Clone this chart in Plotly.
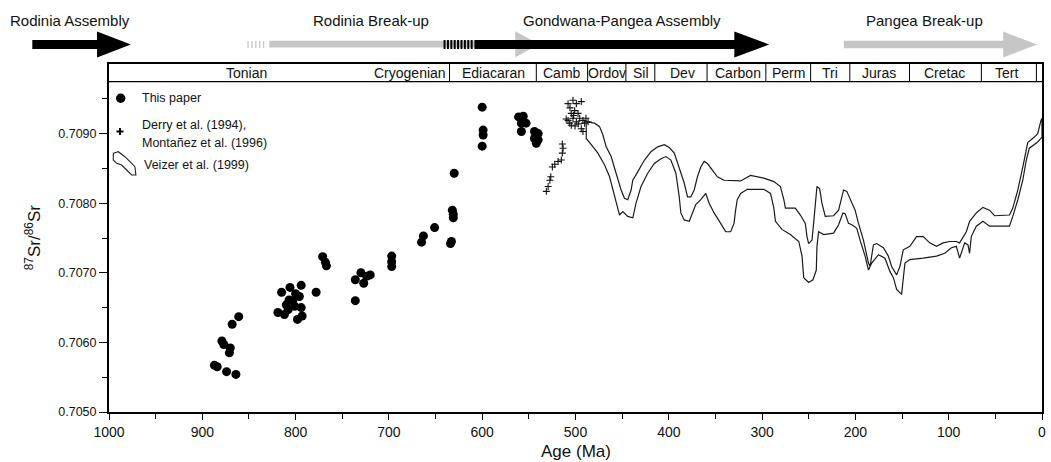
import plotly.graph_objects as go

# ---------------- data ----------------
paper_age = [887, 884, 874, 864, 879, 877, 870, 871, 868, 861,
             815, 806, 794, 819, 812, 810, 807, 801, 796, 794, 798, 793, 808, 803, 800,
             778, 771, 768, 767, 736, 736, 730, 727, 720, 724, 697, 697, 697,
             665, 663, 651, 634, 633, 632, 631, 631, 630,
             600, 599, 599, 600, 561, 556, 558, 553, 558, 544, 540, 544, 540, 542]
paper_sr = [0.70567, 0.70565, 0.70558, 0.70554, 0.70602, 0.70597, 0.70592, 0.70585, 0.70626, 0.70637,
            0.70672, 0.70679, 0.70682, 0.70643, 0.70640, 0.70654, 0.70661, 0.70652, 0.70666, 0.70650,
            0.70633, 0.70638, 0.70647, 0.70660, 0.70670,
            0.70672, 0.70723, 0.70715, 0.70710, 0.70690, 0.70660, 0.70700, 0.70685, 0.70697, 0.70695,
            0.70724, 0.70716, 0.70709,
            0.70744, 0.70753, 0.70765, 0.70742, 0.70745, 0.70790, 0.70779, 0.70784, 0.70843,
            0.70938, 0.70905, 0.70898, 0.70882, 0.70924, 0.70925, 0.70915, 0.70915, 0.70903,
            0.70903, 0.70900, 0.70893, 0.70891, 0.70886]

derry_age = [531.2, 529.3, 527.5, 526.5, 524.8, 522.2, 518.7, 515.2, 514.1, 513.3, 514.1,
             508.0, 502.7, 499.1, 493.8, 504.5, 500.9, 508.0, 506.2, 502.7, 499.1, 495.5,
             492.0, 490.2, 504.5, 493.8, 492.0, 500.5, 497.3, 505.9, 488.8, 502.0, 497.0,
             510.0, 486.5]
derry_sr = [0.70817, 0.70824, 0.70833, 0.70838, 0.70852, 0.70856, 0.70860, 0.70862, 0.70872,
            0.70879, 0.70885, 0.70943, 0.70948, 0.70943, 0.70946, 0.70929, 0.70933, 0.70919,
            0.70915, 0.70922, 0.70917, 0.70922, 0.70919, 0.70915, 0.70912, 0.70907, 0.70903,
            0.70911, 0.70929, 0.70937, 0.70922, 0.70926, 0.70914, 0.70921, 0.70917]

veizer_upper_age = [490.2, 479.5, 474.2, 470.6, 467.1, 461.8, 456.5, 451.1, 447.5, 444.0, 440.4,
                    438.6, 433.3, 426.1, 419.1, 412.0, 404.8, 399.5, 394.1, 388.8, 383.5, 379.9,
                    376.4, 372.8, 369.3, 365.7, 362.1, 358.6, 353.3, 347.9, 340.8, 330.1, 323.0,
                    312.4, 298.1, 287.4, 280.4, 276.7, 275.0, 264.4, 259.0, 253.7, 251.9, 250.1,
                    246.5, 244.1, 241.2, 238.3, 235.9, 232.3, 223.4, 218.0, 212.7, 209.2, 203.8,
                    200.3, 196.7, 191.4, 186.0, 184.3, 180.7, 177.2, 170.0, 164.7, 161.2, 155.8,
                    152.3, 148.7, 141.6, 134.5, 127.3, 120.3, 113.1, 106.0, 98.9, 91.8, 88.3,
                    84.6, 81.1, 77.6, 70.4, 63.3, 56.2, 50.9, 42.0, 34.9, 31.3, 25.9, 20.6,
                    15.3, 8.2, 4.6, 1.1, 0.0]
veizer_upper_sr = [0.70917, 0.70915, 0.70910, 0.70898, 0.70881, 0.70867, 0.70843, 0.70819, 0.70807,
                   0.70805, 0.70819, 0.70833, 0.70845, 0.70862, 0.70874, 0.70881, 0.70884, 0.70880,
                   0.70872, 0.70852, 0.70829, 0.70809, 0.70809, 0.70819, 0.70838, 0.70852, 0.70860,
                   0.70857, 0.70848, 0.70838, 0.70833, 0.70832, 0.70832, 0.70840, 0.70836, 0.70831,
                   0.70824, 0.70805, 0.70793, 0.70793, 0.70783, 0.70771, 0.70752, 0.70742, 0.70747,
                   0.70781, 0.70824, 0.70821, 0.70800, 0.70781, 0.70782, 0.70790, 0.70819, 0.70817,
                   0.70802, 0.70790, 0.70771, 0.70747, 0.70714, 0.70709, 0.70740, 0.70742, 0.70736,
                   0.70724, 0.70709, 0.70697, 0.70709, 0.70733, 0.70738, 0.70752, 0.70752, 0.70743,
                   0.70738, 0.70743, 0.70745, 0.70745, 0.70743, 0.70752, 0.70759, 0.70774, 0.70786,
                   0.70794, 0.70790, 0.70782, 0.70782, 0.70783, 0.70793, 0.70819, 0.70852, 0.70887,
                   0.70895, 0.70900, 0.70919, 0.70922]

veizer_lower_age = [488.5, 488.5, 483.1, 476.0, 468.8, 463.5, 458.2, 454.6, 452.8, 449.3, 444.0,
                    438.6, 435.1, 429.8, 422.6, 415.5, 408.4, 403.1, 397.8, 392.4, 388.8, 387.1,
                    383.5, 378.1, 374.6, 371.1, 365.7, 360.4, 356.8, 351.4, 344.4, 339.1, 333.7,
                    330.1, 328.4, 326.6, 323.0, 315.9, 312.4, 298.1, 291.0, 287.4, 285.7, 278.5,
                    269.7, 260.7, 257.2, 255.4, 250.1, 245.5, 241.9, 241.2, 239.4, 234.0, 223.4,
                    218.0, 213.4, 211.0, 207.4, 203.8, 198.5, 195.0, 189.6, 186.0, 182.5, 175.3,
                    168.3, 163.0, 159.3, 155.8, 150.5, 148.7, 146.9, 141.6, 127.3, 113.1, 104.2,
                    97.1, 91.8, 88.3, 82.9, 79.3, 77.6, 75.8, 70.4, 63.3, 56.2, 34.9, 31.3, 25.9,
                    20.6, 17.1, 13.6, 4.6, 0.0]
veizer_lower_sr = [0.70915, 0.70893, 0.70884, 0.70872, 0.70855, 0.70838, 0.70809, 0.70793, 0.70783,
                   0.70788, 0.70781, 0.70779, 0.70800, 0.70824, 0.70843, 0.70857, 0.70864, 0.70867,
                   0.70862, 0.70843, 0.70809, 0.70786, 0.70776, 0.70774, 0.70786, 0.70798, 0.70805,
                   0.70814, 0.70800, 0.70786, 0.70771, 0.70759, 0.70759, 0.70771, 0.70790, 0.70805,
                   0.70814, 0.70820, 0.70820, 0.70820, 0.70814, 0.70793, 0.70774, 0.70762, 0.70755,
                   0.70745, 0.70724, 0.70693, 0.70686, 0.70690, 0.70704, 0.70738, 0.70759, 0.70755,
                   0.70757, 0.70769, 0.70786, 0.70785, 0.70771, 0.70769, 0.70764, 0.70747, 0.70724,
                   0.70704, 0.70714, 0.70726, 0.70721, 0.70702, 0.70693, 0.70676, 0.70669, 0.70695,
                   0.70714, 0.70719, 0.70721, 0.70724, 0.70728, 0.70736, 0.70738, 0.70721, 0.70743,
                   0.70740, 0.70728, 0.70752, 0.70767, 0.70774, 0.70767, 0.70767, 0.70781, 0.70805,
                   0.70833, 0.70860, 0.70879, 0.70888, 0.70895]

period_names = ["Tonian", "Cryogenian", "Ediacaran", "Camb", "Ordov", "Sil", "Dev",
                "Carbon", "Perm", "Tri", "Juras", "Cretac", "Tert"]
period_label_age = [853, 677, 588, 514, 466, 430, 385, 326, 272, 227, 175, 104, 38]
period_boundaries = [635, 542, 487, 446, 415, 359, 296, 248, 206, 142, 65, 6]

x_ticks = list(range(0, 1001, 100))
x_minor = list(range(50, 1000, 100))
y_ticks = [0.7050, 0.7060, 0.7070, 0.7080, 0.7090]
y_tick_text = ["0.7050", "0.7060", "0.7070", "0.7080", "0.7090"]
y_minor = [0.7055, 0.7065, 0.7075, 0.7085, 0.7095]

tectonic_labels = ["Rodinia Assembly", "Rodinia Break-up", "Gondwana-Pangea Assembly", "Pangea Break-up"]
legend_labels = ["This paper", "Derry et al. (1994),", "Montañez et al. (1996)", "Veizer et al. (1999)"]

# ---------------- layout geometry helpers (decoration only) ----------------
W, H = 1051, 462
ML, MR, MT, MB = 109, 5, 64, 50
PW, PH = W - ML - MR, H - MT - MB
FONT = "Liberation Sans, Arial, Helvetica, sans-serif"


def PX(x):
    return (x - ML) / PW


def PY(y):
    return (H - MB - y) / PH


def arrow_path(x0, xs, xt, yc, s, h):
    pts = [(x0, yc - s), (xs, yc - s), (xs, yc - h), (xt, yc), (xs, yc + h), (xs, yc + s), (x0, yc + s)]
    return "M " + " L ".join(f"{PX(a):.5f},{PY(b):.5f}" for a, b in pts) + " Z"


fig = go.Figure()

veizer_x = veizer_upper_age + veizer_lower_age[::-1]
veizer_y = veizer_upper_sr + veizer_lower_sr[::-1]
fig.add_trace(go.Scatter(x=veizer_x, y=veizer_y, mode="lines",
                         line=dict(color="#1a1a1a", width=1.2), hoverinfo="skip"))
fig.add_trace(go.Scatter(x=derry_age, y=derry_sr, mode="markers",
                         marker=dict(symbol="cross-thin", size=5, line=dict(color="#111", width=1.1))))
fig.add_trace(go.Scatter(x=paper_age, y=paper_sr, mode="markers",
                         marker=dict(symbol="circle", size=9, color="#000")))

shapes = []
annotations = []

# period bar
shapes.append(dict(type="line", xref="paper", yref="paper", x0=0, x1=1, y0=PY(81.7), y1=PY(81.7),
                   line=dict(color="black", width=1.2)))
for b in period_boundaries:
    shapes.append(dict(type="line", xref="x", yref="paper", x0=b, x1=b, y0=PY(81.7), y1=1,
                       line=dict(color="black", width=1)))
for name, a in zip(period_names, period_label_age):
    annotations.append(dict(x=a, y=PY(73), xref="x", yref="paper", text=name, showarrow=False,
                            font=dict(family=FONT, size=14, color="#111"), xanchor="center", yanchor="middle"))

# tectonic arrows
gray = "#c6c6c6"
for i in range(5):
    x = 248 + i * 3.9
    shapes.append(dict(type="rect", xref="paper", yref="paper", x0=PX(x), x1=PX(x + 1.3),
                       y0=PY(48), y1=PY(41), fillcolor=gray, line=dict(width=0)))
shapes.append(dict(type="path", xref="paper", yref="paper",
                   path=arrow_path(270, 517, 541, 44.2, 3.4, 13), fillcolor=gray, line=dict(width=0)))
for i in range(9):
    x = 445 + i * 3.4
    shapes.append(dict(type="rect", xref="paper", yref="paper", x0=PX(x), x1=PX(x + 2.0),
                       y0=PY(49), y1=PY(40), fillcolor="black", line=dict(width=0)))
shapes.append(dict(type="path", xref="paper", yref="paper",
                   path=arrow_path(32, 97, 131, 44.5, 4.6, 13), fillcolor="black", line=dict(width=0)))
shapes.append(dict(type="path", xref="paper", yref="paper",
                   path=arrow_path(476, 737, 772, 44.5, 4.6, 13), fillcolor="black", line=dict(width=0)))
shapes.append(dict(type="path", xref="paper", yref="paper",
                   path=arrow_path(847, 1007, 1041, 44.5, 3.8, 13), fillcolor=gray, line=dict(width=0)))

for txt, xc in zip(tectonic_labels, [70, 372, 624, 928]):
    annotations.append(dict(x=PX(xc), y=PY(21), xref="paper", yref="paper", text=txt, showarrow=False,
                            font=dict(family=FONT, size=15, color="#111"), xanchor="center", yanchor="middle"))

# legend (drawn by hand)
shapes.append(dict(type="circle", xref="paper", yref="paper", x0=PX(116), x1=PX(125.5),
                   y0=PY(103), y1=PY(93.5), fillcolor="black", line=dict(width=0)))
shapes.append(dict(type="line", xref="paper", yref="paper", x0=PX(116.5), x1=PX(123.5),
                   y0=PY(131.5), y1=PY(131.5), line=dict(color="black", width=2)))
shapes.append(dict(type="line", xref="paper", yref="paper", x0=PX(120), x1=PX(120),
                   y0=PY(128), y1=PY(135), line=dict(color="black", width=2)))
poly = [(113.3, 153.3), (118.3, 151.7), (125, 156.7), (130, 161.7), (135, 166.7), (136, 175),
        (131.7, 175), (126.7, 170), (121.7, 165), (116.7, 163.3), (113.3, 160)]
shapes.append(dict(type="path", xref="paper", yref="paper",
                   path="M " + " L ".join(f"{PX(a):.5f},{PY(b):.5f}" for a, b in poly) + " Z",
                   line=dict(color="#222", width=1.1)))
for txt, (lx, ly) in zip(legend_labels, [(140, 98.3), (140, 125), (140, 142.5), (142, 165)]):
    annotations.append(dict(x=PX(lx), y=PY(ly), xref="paper", yref="paper", text=txt, showarrow=False,
                            font=dict(family=FONT, size=12.5, color="#111"), xanchor="left", yanchor="middle"))

# axis titles
annotations.append(dict(x=PX(578), y=PY(451), xref="paper", yref="paper", text="Age (Ma)", showarrow=False,
                        font=dict(family=FONT, size=17, color="#111"), xanchor="center", yanchor="middle"))
annotations.append(dict(x=PX(33), y=PY(237), xref="paper", yref="paper",
                        text="<sup>87</sup>Sr/<sup>86</sup>Sr", showarrow=False, textangle=-90,
                        font=dict(family=FONT, size=17, color="#111"), xanchor="center", yanchor="middle"))

fig.update_layout(
    width=W, height=H, margin=dict(l=ML, r=MR, t=MT, b=MB),
    paper_bgcolor="white", plot_bgcolor="white", showlegend=False,
    shapes=shapes, annotations=annotations,
    font=dict(family=FONT, color="#111"),
    xaxis=dict(range=[1000, 0], tickvals=x_ticks, ticktext=[str(v) for v in x_ticks],
               ticks="outside", ticklen=6, tickwidth=1.2, tickcolor="black",
               showline=True, linewidth=2, linecolor="black", mirror=True,
               showgrid=False, zeroline=False, tickfont=dict(family=FONT, size=14, color="#111"),
               minor=dict(tickvals=x_minor, ticks="outside", ticklen=5, tickwidth=1.2, tickcolor="black")),
    yaxis=dict(range=[0.705, 0.710], tickvals=y_ticks, ticktext=y_tick_text,
               ticks="outside", ticklen=8, tickwidth=1.2, tickcolor="black",
               showline=True, linewidth=2, linecolor="black", mirror=True,
               showgrid=False, zeroline=False, tickfont=dict(family=FONT, size=12.5, color="#111"),
               minor=dict(tickvals=y_minor, ticks="outside", ticklen=5, tickwidth=1.2, tickcolor="black")),
)

fig.write_html("out.html")
